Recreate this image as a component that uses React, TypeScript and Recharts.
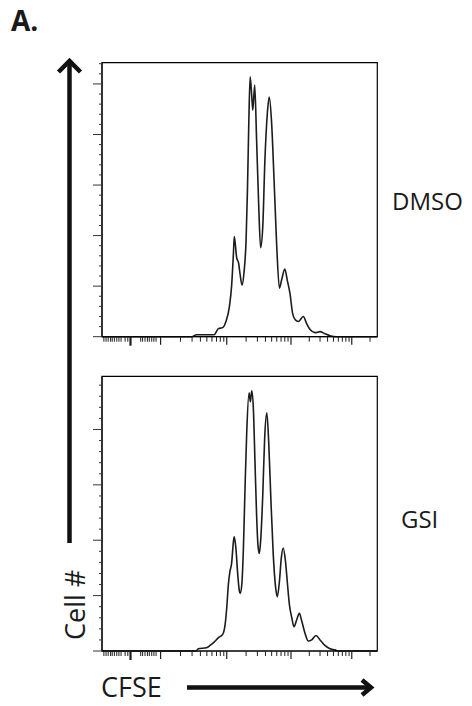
import { Line, LineChart, ReferenceArea, XAxis, YAxis } from "recharts";

// CFSE display channel (0-1024, biexponential axis) and cell counts
const dmsoChannel = [
  0, 334, 352, 417, 433, 449, 461, 474, 482, 489, 492, 501, 508, 513, 521, 528, 536, 541, 546, 551,
  557, 561, 568, 575, 583, 590, 598, 606, 615, 622, 631, 640, 650, 660, 668, 680, 689, 699, 709, 718,
  730, 749, 761, 774, 792, 811, 829, 848, 873, 1024,
];
const dmsoCount = [
  0, 0, 2, 2, 8, 9, 15, 30, 50, 83, 99, 78, 73, 63, 51, 63, 96, 145, 211, 257,
  238, 224, 249, 195, 129, 88, 109, 175, 221, 237, 211, 155, 89, 48, 56, 67, 56, 43, 23, 17,
  15, 20, 13, 7, 4, 5, 3, 1, 0, 0,
];

const gsiChannel = [
  0, 350, 358, 389, 402, 417, 433, 449, 458, 464, 470, 476, 482, 489, 492, 498, 505, 511, 514, 520,
  526, 532, 538, 547, 552, 557, 563, 569, 575, 580, 585, 590, 598, 605, 613, 620, 628, 637, 646, 652,
  660, 667, 674, 682, 689, 697, 706, 714, 724, 734, 743, 755, 767, 780, 796, 811, 829, 848, 867, 879,
  1024,
];
const gsiCount = [
  0, 0, 2, 3, 5, 8, 12, 15, 24, 39, 60, 72, 79, 99, 103, 93, 69, 54, 52, 60,
  93, 147, 195, 233, 225, 235, 219, 171, 123, 96, 88, 99, 141, 192, 215, 189, 138, 87, 57, 49,
  63, 84, 93, 82, 63, 42, 30, 22, 28, 34, 27, 16, 9, 10, 14, 10, 5, 2, 1, 0,
  0,
];

// x axis: linear part around zero, then log decades 10^2 .. 10^5
const lowTicks = [7, 15, 23, 32, 38, 46, 55, 63, 71, 86, 96, 144, 151, 160, 169, 176, 185, 193, 201];
const zeroTick = 106;
const decadeTicks = [218, 464, 703, 929];
const X_MAX = 1024;

const minorDecadeTicks: number[] = [];
decadeTicks.forEach((start, i) => {
  const width = i < decadeTicks.length - 1 ? decadeTicks[i + 1] - start : start - decadeTicks[i - 1];
  for (let k = 2; k <= 9; k++) {
    const v = start + Math.log10(k) * width;
    if (v < X_MAX) minorDecadeTicks.push(Math.round(v));
  }
});
const xTicks = [...lowTicks, zeroTick, ...decadeTicks, ...minorDecadeTicks].sort((a, b) => a - b);
const xMajor = [zeroTick, ...decadeTicks];

const yTicksUpTo = (max: number) => {
  const out: number[] = [];
  for (let v = 0; v <= max; v += 10) out.push(v);
  return out;
};

const toData = (ch: number[], n: number[]) => ch.map((c, i) => ({ ch: c, count: n[i] }));

const XTick = (props: any) => {
  const { x, y, payload } = props;
  const major = xMajor.includes(payload.value);
  const zero = payload.value === zeroTick;
  return (
    <line
      x1={x}
      x2={x}
      y1={y}
      y2={y + (zero ? 9 : major ? 8 : 5)}
      stroke="#1e1e1e"
      strokeWidth={zero ? 2.2 : major ? 1.2 : 1}
    />
  );
};

const YTick = (props: any) => {
  const { x, y, payload } = props;
  const major = payload.value % 50 === 0;
  return <line x1={x} x2={x - (major ? 9 : 3)} y1={y} y2={y} stroke="#333" strokeWidth={1} />;
};

type PanelProps = {
  data: { ch: number; count: number }[];
  yMax: number;
  top: number;
  height: number;
  marginTop: number;
  marginBottom: number;
};

function Panel({ data, yMax, top, height, marginTop, marginBottom }: PanelProps) {
  return (
    <div style={{ position: "absolute", left: 0, top }}>
      <LineChart
        width={472}
        height={height}
        data={data}
        margin={{ top: marginTop, right: 94.7, bottom: marginBottom, left: 92 }}
      >
        <XAxis
          dataKey="ch"
          type="number"
          domain={[0, X_MAX]}
          ticks={xTicks}
          interval={0}
          tickSize={0}
          tickMargin={0}
          height={10}
          tick={<XTick />}
          axisLine={{ stroke: "#000" }}
        />
        <YAxis
          type="number"
          domain={[0, yMax]}
          ticks={yTicksUpTo(yMax)}
          interval={0}
          tickSize={0}
          tickMargin={0}
          width={10}
          tick={<YTick />}
          axisLine={{ stroke: "#000" }}
        />
        <ReferenceArea x1={0} x2={X_MAX} y1={0} y2={yMax} fill="none" stroke="#000" strokeWidth={1.2} />
        <Line
          type="monotone"
          dataKey="count"
          stroke="#1c1c1c"
          strokeWidth={1.6}
          dot={false}
          isAnimationActive={false}
        />
      </LineChart>
    </div>
  );
}

export default function App() {
  const font = "'Open Sans', 'Noto Sans', sans-serif";
  return (
    <div
      style={{
        position: "absolute",
        left: 0,
        top: 0,
        width: 472,
        height: 706,
        background: "#fff",
        overflow: "hidden",
      }}
    >
      <Panel data={toData(dmsoChannel, dmsoCount)} yMax={271} top={0} height={350} marginTop={62.7} marginBottom={3.3} />
      <Panel data={toData(gsiChannel, gsiCount)} yMax={248} top={350} height={320} marginTop={26.3} marginBottom={9} />
      <svg width={472} height={706} style={{ position: "absolute", left: 0, top: 0, pointerEvents: "none" }}>
        <text x={11} y={31} fontFamily={font} fontWeight={700} fontSize={28} fill="#1a1a1a">
          A.
        </text>
        <text x={392} y={210} fontFamily={font} fontSize={24} fill="#1a1a1a">
          DMSO
        </text>
        <text x={401} y={528} fontFamily={font} fontSize={24} fill="#1a1a1a">
          GSI
        </text>
        <text x={101} y={697} fontFamily={font} fontSize={27} fill="#1a1a1a">
          CFSE
        </text>
        <text transform="translate(85,640) rotate(-90)" fontFamily={font} fontSize={27} fill="#1a1a1a">
          Cell #
        </text>
        {/* axis arrows */}
        <line x1={69.5} y1={543} x2={69.5} y2={62} stroke="#111" strokeWidth={4.5} />
        <polyline points="58.5,72 69.5,61 80.5,72" fill="none" stroke="#111" strokeWidth={4.5} strokeLinejoin="miter" />
        <line x1={187} y1={687.5} x2={370} y2={687.5} stroke="#111" strokeWidth={4.5} />
        <polyline points="362,680 371,687.5 362,695" fill="none" stroke="#111" strokeWidth={4.5} strokeLinejoin="miter" />
      </svg>
    </div>
  );
}
